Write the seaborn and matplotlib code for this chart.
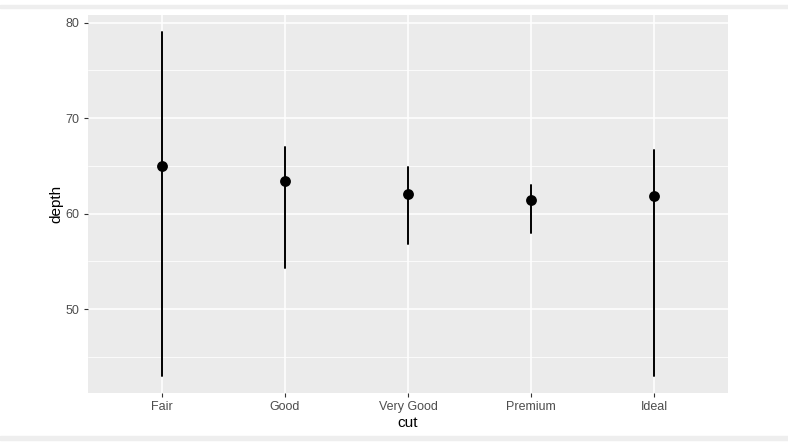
import matplotlib
matplotlib.use("Agg")
import matplotlib.pyplot as plt
import seaborn as sns
import pandas as pd
import numpy as np
from matplotlib.patches import Rectangle

cuts = ["Fair", "Good", "Very Good", "Premium", "Ideal"]
depth_min = [43.0, 54.3, 56.8, 58.0, 43.0]
depth_median = [65.0, 63.4, 62.1, 61.4, 61.8]
depth_max = [79.0, 67.0, 64.9, 63.0, 66.7]
y_ticks = [50, 60, 70, 80]
y_minor = [45, 55, 65, 75]

rows = []
for c, lo, md, hi in zip(cuts, depth_min, depth_median, depth_max):
    for v in (lo, md, hi):
        rows.append({"cut": c, "depth": v})
df = pd.DataFrame(rows)
df["cut"] = pd.Categorical(df["cut"], categories=cuts, ordered=True)

sns.set_theme(style="white")
plt.rcParams["font.family"] = ["Liberation Sans", "DejaVu Sans"]

fig = plt.figure(figsize=(7.88, 4.47), dpi=100)
fig.patch.set_facecolor("white")
ax = fig.add_axes([88/788, 1-393/447, 640/788, 378/447])
ax.set_facecolor("#EBEBEB")

sns.pointplot(data=df, x="cut", y="depth", order=cuts, estimator="median",
              errorbar=lambda v: (v.min(), v.max()), linestyle="none",
              color="black", marker="o", markersize=7.8, markeredgewidth=0,
              err_kws={"linewidth": 1.4}, ax=ax, zorder=3)

ax.set_xlim(-0.6, 4.6)
ax.set_ylim(41.2, 80.8)
ax.set_yticks(y_ticks)
ax.set_yticks(y_minor, minor=True)
ax.grid(True, which="major", color="white", linewidth=1.1)
ax.grid(True, which="minor", axis="y", color="white", linewidth=0.55)
ax.set_axisbelow(True)
for s in ax.spines.values():
    s.set_visible(False)
ax.tick_params(axis="both", which="major", length=3, width=0.8, color="#333333",
               labelsize=9, labelcolor="#4D4D4D", pad=3, left=True, bottom=True)
ax.tick_params(axis="y", which="minor", length=0)
ax.set_xlabel("cut", fontsize=11, color="black", labelpad=2)
ax.set_ylabel("depth", fontsize=11, color="black", labelpad=2)

# light gray frame strips at top and bottom
fig.patches.append(Rectangle((0, 1-8/447), 1, 3/447, transform=fig.transFigure,
                             color="#EEEEEE", zorder=0))
fig.patches.append(Rectangle((0, 1-440/447), 1, 4/447, transform=fig.transFigure,
                             color="#EEEEEE", zorder=0))

fig.savefig("out.png", dpi=100)
